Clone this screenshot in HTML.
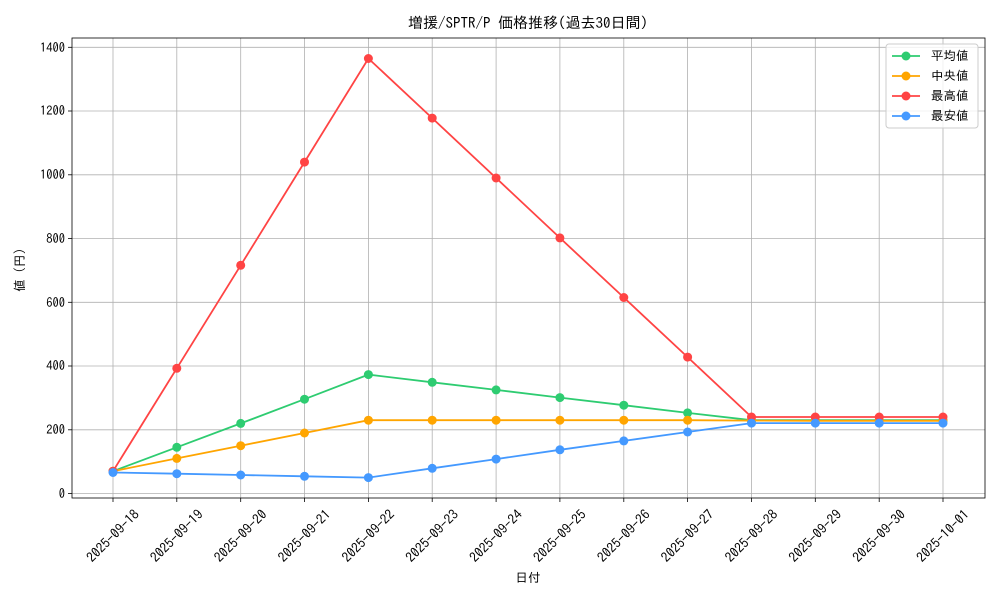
<!DOCTYPE html>
<html><head><meta charset="utf-8"><style>
body{margin:0;background:#fff;}
svg text{font-family:"IPAGothic","Liberation Sans","Noto Sans CJK JP",sans-serif;fill:#000;}
</style></head><body>
<svg width="1000" height="600" xmlns="http://www.w3.org/2000/svg">
<rect width="1000" height="600" fill="#fff"/>
<g stroke="#b0b0b0" stroke-width="0.8">
<line x1="113" y1="38" x2="113" y2="498"/><line x1="176.8" y1="38" x2="176.8" y2="498"/><line x1="240.7" y1="38" x2="240.7" y2="498"/><line x1="304.5" y1="38" x2="304.5" y2="498"/><line x1="368.4" y1="38" x2="368.4" y2="498"/><line x1="432.2" y1="38" x2="432.2" y2="498"/><line x1="496.1" y1="38" x2="496.1" y2="498"/><line x1="559.9" y1="38" x2="559.9" y2="498"/><line x1="623.8" y1="38" x2="623.8" y2="498"/><line x1="687.6" y1="38" x2="687.6" y2="498"/><line x1="751.5" y1="38" x2="751.5" y2="498"/><line x1="815.3" y1="38" x2="815.3" y2="498"/><line x1="879.2" y1="38" x2="879.2" y2="498"/><line x1="943" y1="38" x2="943" y2="498"/>
<line x1="72" y1="493.5" x2="985" y2="493.5"/><line x1="72" y1="429.8" x2="985" y2="429.8"/><line x1="72" y1="366" x2="985" y2="366"/><line x1="72" y1="302.3" x2="985" y2="302.3"/><line x1="72" y1="238.5" x2="985" y2="238.5"/><line x1="72" y1="174.8" x2="985" y2="174.8"/><line x1="72" y1="111" x2="985" y2="111"/><line x1="72" y1="47.3" x2="985" y2="47.3"/>
</g>
<rect x="72" y="38" width="913" height="460" fill="none" stroke="#000" stroke-width="0.8"/>
<g stroke="#000" stroke-width="0.8">
<line x1="68" y1="493.5" x2="72" y2="493.5"/><line x1="68" y1="429.8" x2="72" y2="429.8"/><line x1="68" y1="366" x2="72" y2="366"/><line x1="68" y1="302.3" x2="72" y2="302.3"/><line x1="68" y1="238.5" x2="72" y2="238.5"/><line x1="68" y1="174.8" x2="72" y2="174.8"/><line x1="68" y1="111" x2="72" y2="111"/><line x1="68" y1="47.3" x2="72" y2="47.3"/>
<line x1="113" y1="498" x2="113" y2="502"/><line x1="176.8" y1="498" x2="176.8" y2="502"/><line x1="240.7" y1="498" x2="240.7" y2="502"/><line x1="304.5" y1="498" x2="304.5" y2="502"/><line x1="368.4" y1="498" x2="368.4" y2="502"/><line x1="432.2" y1="498" x2="432.2" y2="502"/><line x1="496.1" y1="498" x2="496.1" y2="502"/><line x1="559.9" y1="498" x2="559.9" y2="502"/><line x1="623.8" y1="498" x2="623.8" y2="502"/><line x1="687.6" y1="498" x2="687.6" y2="502"/><line x1="751.5" y1="498" x2="751.5" y2="502"/><line x1="815.3" y1="498" x2="815.3" y2="502"/><line x1="879.2" y1="498" x2="879.2" y2="502"/><line x1="943" y1="498" x2="943" y2="502"/>
</g>
<g font-size="12.5" text-anchor="end">
<text x="65" y="498">0</text><text x="65" y="434">200</text><text x="65" y="370">400</text><text x="65" y="307">600</text><text x="65" y="243">800</text><text x="65" y="179">1000</text><text x="65" y="115">1200</text><text x="65" y="52">1400</text>
</g>
<g font-size="13.5" text-anchor="middle">
<text transform="translate(113,536) rotate(-45)" dy="4.5">2025-09-18</text>
<text transform="translate(176.8,536) rotate(-45)" dy="4.5">2025-09-19</text>
<text transform="translate(240.7,536) rotate(-45)" dy="4.5">2025-09-20</text>
<text transform="translate(304.5,536) rotate(-45)" dy="4.5">2025-09-21</text>
<text transform="translate(368.4,536) rotate(-45)" dy="4.5">2025-09-22</text>
<text transform="translate(432.2,536) rotate(-45)" dy="4.5">2025-09-23</text>
<text transform="translate(496.1,536) rotate(-45)" dy="4.5">2025-09-24</text>
<text transform="translate(559.9,536) rotate(-45)" dy="4.5">2025-09-25</text>
<text transform="translate(623.8,536) rotate(-45)" dy="4.5">2025-09-26</text>
<text transform="translate(687.6,536) rotate(-45)" dy="4.5">2025-09-27</text>
<text transform="translate(751.5,536) rotate(-45)" dy="4.5">2025-09-28</text>
<text transform="translate(815.3,536) rotate(-45)" dy="4.5">2025-09-29</text>
<text transform="translate(879.2,536) rotate(-45)" dy="4.5">2025-09-30</text>
<text transform="translate(943,536) rotate(-45)" dy="4.5">2025-10-01</text>
</g>
<text x="528" y="582" font-size="12.5" text-anchor="middle">日付</text>
<text transform="translate(24,270) rotate(-90)" font-size="12.5" text-anchor="middle">値 (円)</text>
<text x="528" y="28" font-size="15" text-anchor="middle">増援/SPTR/P 価格推移(過去30日間)</text>
<g fill="none" stroke-width="1.8">
<polyline stroke="#2ecc71" points="113,471.2 176.8,447.3 240.7,423.4 304.5,399.2 368.4,374.6 432.2,382.3 496.1,389.9 559.9,397.6 623.8,405.2 687.6,412.9 751.5,420.2 815.3,420.2 879.2,420.2 943,420.2"/>
<polyline stroke="#ffa500" points="113,471.2 176.8,458.4 240.7,445.7 304.5,433 368.4,420.2 432.2,420.2 496.1,420.2 559.9,420.2 623.8,420.2 687.6,420.2 751.5,420.6 815.3,420.8 879.2,420.8 943,420.8"/>
<polyline stroke="#ff4444" points="113,471.2 176.8,368.3 240.7,265.3 304.5,162.1 368.4,58.5 432.2,118.1 496.1,178 559.9,237.9 623.8,297.5 687.6,357.1 751.5,417 815.3,417 879.2,417 943,417"/>
<polyline stroke="#4499ff" points="113,472.5 176.8,473.7 240.7,475 304.5,476.3 368.4,477.6 432.2,468.3 496.1,459.1 559.9,449.8 623.8,440.9 687.6,432 751.5,423.1 815.3,423.1 879.2,423.1 943,423.1"/>
</g>
<g fill="#2ecc71"><circle cx="113" cy="471.2" r="4.5"/><circle cx="176.8" cy="447.3" r="4.5"/><circle cx="240.7" cy="423.4" r="4.5"/><circle cx="304.5" cy="399.2" r="4.5"/><circle cx="368.4" cy="374.6" r="4.5"/><circle cx="432.2" cy="382.3" r="4.5"/><circle cx="496.1" cy="389.9" r="4.5"/><circle cx="559.9" cy="397.6" r="4.5"/><circle cx="623.8" cy="405.2" r="4.5"/><circle cx="687.6" cy="412.9" r="4.5"/><circle cx="751.5" cy="420.2" r="4.5"/><circle cx="815.3" cy="420.2" r="4.5"/><circle cx="879.2" cy="420.2" r="4.5"/><circle cx="943" cy="420.2" r="4.5"/></g>
<g fill="#ffa500"><circle cx="113" cy="471.2" r="4.5"/><circle cx="176.8" cy="458.4" r="4.5"/><circle cx="240.7" cy="445.7" r="4.5"/><circle cx="304.5" cy="433" r="4.5"/><circle cx="368.4" cy="420.2" r="4.5"/><circle cx="432.2" cy="420.2" r="4.5"/><circle cx="496.1" cy="420.2" r="4.5"/><circle cx="559.9" cy="420.2" r="4.5"/><circle cx="623.8" cy="420.2" r="4.5"/><circle cx="687.6" cy="420.2" r="4.5"/><circle cx="751.5" cy="420.6" r="4.5"/><circle cx="815.3" cy="420.8" r="4.5"/><circle cx="879.2" cy="420.8" r="4.5"/><circle cx="943" cy="420.8" r="4.5"/></g>
<g fill="#ff4444"><circle cx="113" cy="471.2" r="4.5"/><circle cx="176.8" cy="368.3" r="4.5"/><circle cx="240.7" cy="265.3" r="4.5"/><circle cx="304.5" cy="162.1" r="4.5"/><circle cx="368.4" cy="58.5" r="4.5"/><circle cx="432.2" cy="118.1" r="4.5"/><circle cx="496.1" cy="178" r="4.5"/><circle cx="559.9" cy="237.9" r="4.5"/><circle cx="623.8" cy="297.5" r="4.5"/><circle cx="687.6" cy="357.1" r="4.5"/><circle cx="751.5" cy="417" r="4.5"/><circle cx="815.3" cy="417" r="4.5"/><circle cx="879.2" cy="417" r="4.5"/><circle cx="943" cy="417" r="4.5"/></g>
<g fill="#4499ff"><circle cx="113" cy="472.5" r="4.5"/><circle cx="176.8" cy="473.7" r="4.5"/><circle cx="240.7" cy="475" r="4.5"/><circle cx="304.5" cy="476.3" r="4.5"/><circle cx="368.4" cy="477.6" r="4.5"/><circle cx="432.2" cy="468.3" r="4.5"/><circle cx="496.1" cy="459.1" r="4.5"/><circle cx="559.9" cy="449.8" r="4.5"/><circle cx="623.8" cy="440.9" r="4.5"/><circle cx="687.6" cy="432" r="4.5"/><circle cx="751.5" cy="423.1" r="4.5"/><circle cx="815.3" cy="423.1" r="4.5"/><circle cx="879.2" cy="423.1" r="4.5"/><circle cx="943" cy="423.1" r="4.5"/></g>
<rect x="886" y="44" width="92" height="84" rx="3" fill="#fff" fill-opacity="0.8" stroke="#ccc"/>
<g stroke-width="1.8">
<line x1="892" y1="56" x2="920" y2="56" stroke="#2ecc71"/><circle cx="906" cy="56" r="4.5" fill="#2ecc71"/>
<line x1="892" y1="76" x2="920" y2="76" stroke="#ffa500"/><circle cx="906" cy="76" r="4.5" fill="#ffa500"/>
<line x1="892" y1="96" x2="920" y2="96" stroke="#ff4444"/><circle cx="906" cy="96" r="4.5" fill="#ff4444"/>
<line x1="892" y1="116" x2="920" y2="116" stroke="#4499ff"/><circle cx="906" cy="116" r="4.5" fill="#4499ff"/>
</g>
<g font-size="12.5">
<text x="931" y="60">平均値</text><text x="931" y="80">中央値</text><text x="931" y="100">最高値</text><text x="931" y="120">最安値</text>
</g>
</svg>
</body></html>
